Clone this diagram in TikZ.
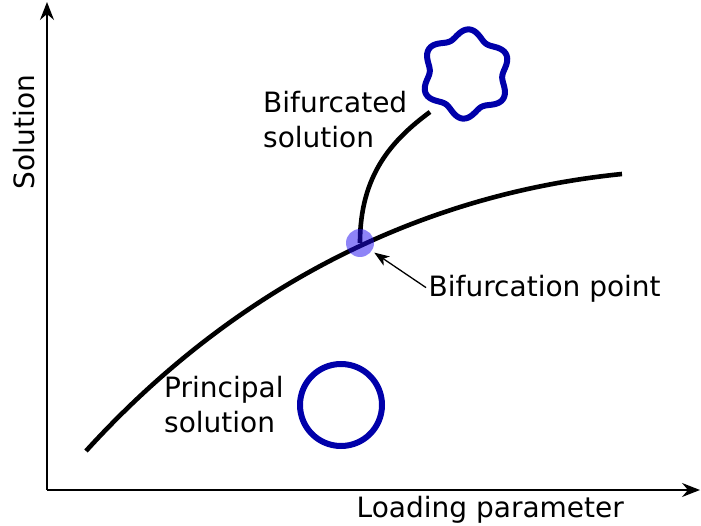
\documentclass[tikz,border=0pt]{standalone}
\usepackage{fontspec}
\setmainfont{DejaVu Sans}
\usetikzlibrary{arrows.meta}
\definecolor{modeblue}{RGB}{0,0,170}
\definecolor{dotblue}{RGB}{30,10,240}
\tikzset{axis/.style = {line width=1.6pt,
                        -{Stealth[length=18pt,width=14pt,inset=6pt]}}}
\tikzset{path/.style = {line width=4.6pt}}
\tikzset{mode/.style = {draw=modeblue, line width=6pt}}
\tikzset{pointer/.style = {line width=1.3pt,
                           -{Stealth[length=15pt,width=11pt,inset=4pt]}}}
\tikzset{lbl/.style = {font=\fontsize{28}{35}\selectfont, inner sep=0pt}}

\begin{document}
\begin{tikzpicture}[x=1pt, y=-1pt]
    \useasboundingbox (0,0) rectangle (701,526);
    % axes
    \coordinate (o) at (47,490);
    \coordinate (ytop) at (47,2);
    \coordinate (xend) at (700,490);
    \draw [axis] (o) -- (ytop);
    \draw [axis] (o) -- (xend);
    \node[lbl, anchor=base west] (xlabel) at (356.5,517) {Loading parameter};
    \node[lbl, anchor=base, rotate=90] (ylabel) at (34,132) {Solution};
    % principal and bifurcated paths
    \coordinate (start) at (86,451);
    \coordinate (stop) at (622,174);
    \coordinate (bp) at (360,243);
    \coordinate (tip) at (430,112);
    \draw [path] (start) .. controls (236,286) and (422,194) .. (stop);
    \draw [path] (bp) .. controls (360,175) and (392,140) .. (tip);
    \node[circle, fill=dotblue, fill opacity=0.5, inner sep=0,
          minimum size=28pt] (bif) at (bp) {};
    % mode shapes
    \draw [mode] (341,405) circle [radius=41pt];
    \draw [mode] plot[domain=0:357.5, samples=144, smooth cycle]
        ({466+(40.5+4.2*cos(6*(\x-86)))*cos(\x)},
         {74-(40.5+4.2*cos(6*(\x-86)))*sin(\x)});
    % labels
    \node[lbl, anchor=base west, align=left] (bifsol) at (263,148)
        {Bifurcated\\solution};
    \node[lbl, anchor=base west, align=left] (prinsol) at (164,432)
        {Principal\\solution};
    \node[lbl, anchor=base west] (bpt) at (428.5,297) {Bifurcation point};
    \draw [pointer, shorten <=3pt, shorten >=3pt] (bpt.west) -- (bif);
\end{tikzpicture}
\end{document}
